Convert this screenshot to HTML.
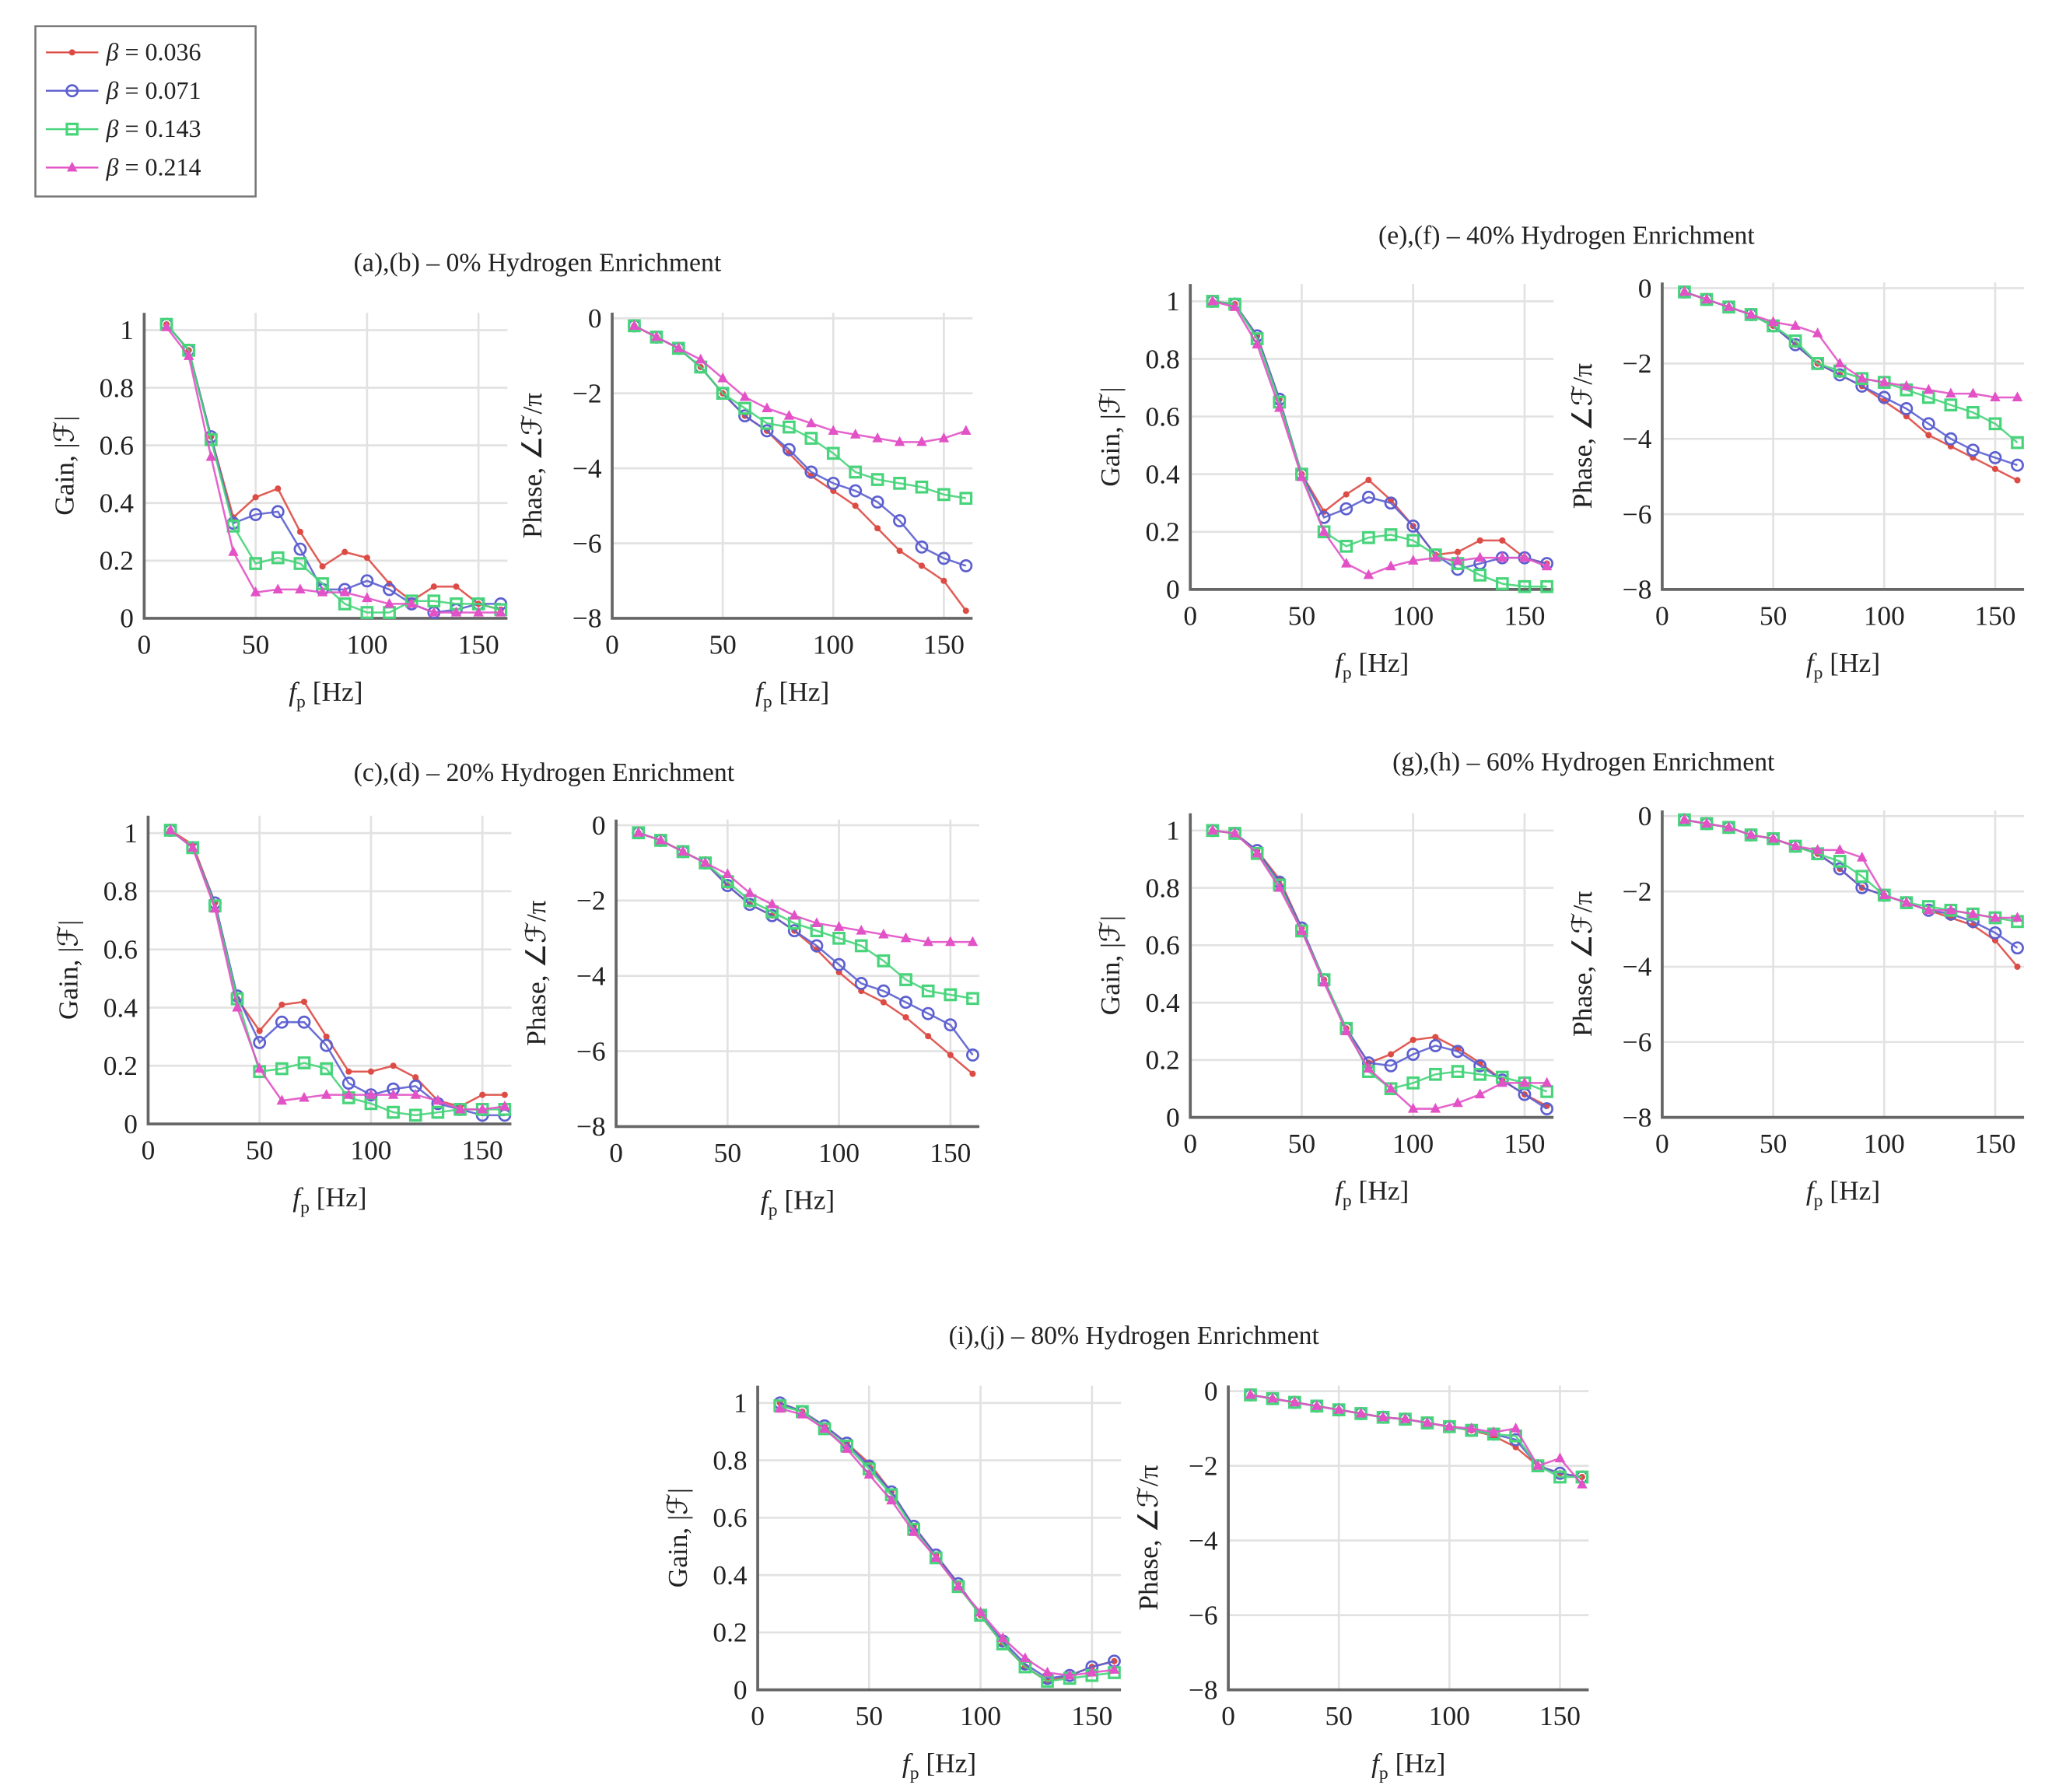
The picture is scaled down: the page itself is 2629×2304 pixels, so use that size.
<!DOCTYPE html>
<html><head><meta charset="utf-8">
<style>
html,body{margin:0;padding:0;background:#fff;}
svg{display:block;}
text{font-family:"Liberation Serif",serif;fill:#222;}
</style></head>
<body>
<svg id="fig" xmlns="http://www.w3.org/2000/svg" width="2629" height="2304" viewBox="0 0 1560 1368" preserveAspectRatio="none">
  <g>
    <rect x="27" y="20" width="168" height="130" fill="#fff" stroke="#777" stroke-width="1.5"/>
  </g>
</svg>
<script>
const freqs = [10,20,30,40,50,60,70,80,90,100,110,120,130,140,150,160];
const seriesNames = ["0.036","0.071","0.143","0.214"];
const gainTicks = [0,0.2,0.4,0.6,0.8,1];
const gainTickLabels = ["0","0.2","0.4","0.6","0.8","1"];
const phaseTicks = [0,-2,-4,-6,-8];
const phaseTickLabels = ["0","−2","−4","−6","−8"];
const freqTicks = [0,50,100,150];
const freqTickLabels = ["0","50","100","150"];

// 0% H2
const gain0_red  = [1.02,0.93,0.63,0.35,0.42,0.45,0.30,0.18,0.23,0.21,0.12,0.06,0.11,0.11,0.05,0.03];
const gain0_blue = [1.02,0.93,0.63,0.33,0.36,0.37,0.24,0.10,0.10,0.13,0.10,0.05,0.02,0.03,0.05,0.05];
const gain0_green= [1.02,0.93,0.62,0.32,0.19,0.21,0.19,0.12,0.05,0.02,0.02,0.06,0.06,0.05,0.05,0.03];
const gain0_mag  = [1.01,0.91,0.56,0.23,0.09,0.10,0.10,0.09,0.09,0.07,0.05,0.05,0.02,0.02,0.02,0.02];
const phase0_red  = [-0.2,-0.5,-0.8,-1.3,-2.0,-2.6,-3.0,-3.6,-4.2,-4.6,-5.0,-5.6,-6.2,-6.6,-7.0,-7.8];
const phase0_blue = [-0.2,-0.5,-0.8,-1.3,-2.0,-2.6,-3.0,-3.5,-4.1,-4.4,-4.6,-4.9,-5.4,-6.1,-6.4,-6.6];
const phase0_green= [-0.2,-0.5,-0.8,-1.3,-2.0,-2.4,-2.8,-2.9,-3.2,-3.6,-4.1,-4.3,-4.4,-4.5,-4.7,-4.8];
const phase0_mag  = [-0.2,-0.5,-0.8,-1.1,-1.6,-2.1,-2.4,-2.6,-2.8,-3.0,-3.1,-3.2,-3.3,-3.3,-3.2,-3.0];
// 20% H2
const gain20_red  = [1.01,0.96,0.76,0.43,0.32,0.41,0.42,0.30,0.18,0.18,0.20,0.16,0.08,0.06,0.10,0.10];
const gain20_blue = [1.01,0.95,0.76,0.44,0.28,0.35,0.35,0.27,0.14,0.10,0.12,0.13,0.07,0.05,0.03,0.03];
const gain20_green= [1.01,0.95,0.75,0.43,0.18,0.19,0.21,0.19,0.09,0.07,0.04,0.03,0.04,0.05,0.05,0.05];
const gain20_mag  = [1.01,0.95,0.74,0.40,0.19,0.08,0.09,0.10,0.10,0.10,0.10,0.10,0.08,0.05,0.05,0.06];
const phase20_red  = [-0.2,-0.4,-0.7,-1.0,-1.6,-2.1,-2.4,-2.8,-3.3,-3.9,-4.4,-4.7,-5.1,-5.6,-6.1,-6.6];
const phase20_blue = [-0.2,-0.4,-0.7,-1.0,-1.6,-2.1,-2.4,-2.8,-3.2,-3.7,-4.2,-4.4,-4.7,-5.0,-5.3,-6.1];
const phase20_green= [-0.2,-0.4,-0.7,-1.0,-1.5,-2.0,-2.3,-2.6,-2.8,-3.0,-3.2,-3.6,-4.1,-4.4,-4.5,-4.6];
const phase20_mag  = [-0.2,-0.4,-0.7,-1.0,-1.3,-1.8,-2.1,-2.4,-2.6,-2.7,-2.8,-2.9,-3.0,-3.1,-3.1,-3.1];
// 40% H2
const gain40_red  = [1.0,0.99,0.88,0.66,0.40,0.27,0.33,0.38,0.31,0.22,0.12,0.13,0.17,0.17,0.11,0.09];
const gain40_blue = [1.0,0.99,0.88,0.66,0.40,0.25,0.28,0.32,0.30,0.22,0.12,0.07,0.09,0.11,0.11,0.09];
const gain40_green= [1.0,0.99,0.87,0.65,0.40,0.20,0.15,0.18,0.19,0.17,0.12,0.09,0.05,0.02,0.01,0.01];
const gain40_mag  = [1.0,0.98,0.85,0.63,0.39,0.20,0.09,0.05,0.08,0.10,0.11,0.10,0.11,0.11,0.11,0.08];
const phase40_red  = [-0.1,-0.3,-0.5,-0.7,-1.0,-1.5,-2.0,-2.3,-2.6,-3.0,-3.4,-3.9,-4.2,-4.5,-4.8,-5.1];
const phase40_blue = [-0.1,-0.3,-0.5,-0.7,-1.0,-1.5,-2.0,-2.3,-2.6,-2.9,-3.2,-3.6,-4.0,-4.3,-4.5,-4.7];
const phase40_green= [-0.1,-0.3,-0.5,-0.7,-1.0,-1.4,-2.0,-2.2,-2.4,-2.5,-2.7,-2.9,-3.1,-3.3,-3.6,-4.1];
const phase40_mag  = [-0.1,-0.3,-0.5,-0.7,-0.9,-1.0,-1.2,-2.0,-2.4,-2.5,-2.6,-2.7,-2.8,-2.8,-2.9,-2.9];
// 60% H2
const gain60_red  = [1.0,0.99,0.93,0.83,0.66,0.48,0.31,0.19,0.22,0.27,0.28,0.24,0.19,0.13,0.08,0.04];
const gain60_blue = [1.0,0.99,0.93,0.82,0.66,0.48,0.31,0.19,0.18,0.22,0.25,0.23,0.18,0.13,0.08,0.03];
const gain60_green= [1.0,0.99,0.92,0.81,0.65,0.48,0.31,0.16,0.10,0.12,0.15,0.16,0.15,0.14,0.12,0.09];
const gain60_mag  = [1.0,0.99,0.92,0.80,0.65,0.47,0.30,0.17,0.10,0.03,0.03,0.05,0.08,0.12,0.12,0.12];
const phase60_red  = [-0.1,-0.2,-0.3,-0.5,-0.6,-0.8,-1.0,-1.4,-1.9,-2.1,-2.3,-2.5,-2.7,-2.9,-3.3,-4.0];
const phase60_blue = [-0.1,-0.2,-0.3,-0.5,-0.6,-0.8,-1.0,-1.4,-1.9,-2.1,-2.3,-2.5,-2.6,-2.8,-3.1,-3.5];
const phase60_green= [-0.1,-0.2,-0.3,-0.5,-0.6,-0.8,-1.0,-1.2,-1.6,-2.1,-2.3,-2.4,-2.5,-2.6,-2.7,-2.8];
const phase60_mag  = [-0.1,-0.2,-0.3,-0.5,-0.6,-0.8,-0.9,-0.9,-1.1,-2.1,-2.3,-2.5,-2.5,-2.6,-2.7,-2.7];
// 80% H2
const gain80_red  = [1.0,0.97,0.92,0.86,0.79,0.69,0.57,0.47,0.37,0.26,0.16,0.08,0.03,0.05,0.08,0.10];
const gain80_blue = [1.0,0.97,0.92,0.86,0.78,0.69,0.57,0.47,0.37,0.26,0.17,0.09,0.04,0.05,0.08,0.10];
const gain80_green= [0.99,0.97,0.91,0.85,0.77,0.68,0.56,0.46,0.36,0.26,0.16,0.08,0.03,0.04,0.05,0.06];
const gain80_mag  = [0.98,0.96,0.91,0.84,0.75,0.66,0.55,0.46,0.36,0.27,0.18,0.11,0.06,0.05,0.06,0.07];
const phase80_red  = [-0.1,-0.2,-0.3,-0.4,-0.5,-0.6,-0.7,-0.75,-0.85,-0.95,-1.05,-1.2,-1.5,-2.0,-2.2,-2.3];
const phase80_blue = [-0.1,-0.2,-0.3,-0.4,-0.5,-0.6,-0.7,-0.75,-0.85,-0.95,-1.05,-1.15,-1.3,-2.0,-2.2,-2.3];
const phase80_green= [-0.1,-0.2,-0.3,-0.4,-0.5,-0.6,-0.7,-0.75,-0.85,-0.95,-1.05,-1.15,-1.2,-2.0,-2.3,-2.3];
const phase80_mag  = [-0.1,-0.2,-0.3,-0.4,-0.5,-0.6,-0.7,-0.75,-0.85,-0.95,-1.0,-1.1,-1.0,-2.0,-1.8,-2.5];

const colors = ["#dd4b45","#5c5fcf","#47d47a","#e252c6"];
const markers = ["dot","circle","square","triangle"];
const NS = "http://www.w3.org/2000/svg";
const svg = document.getElementById("fig");

function el(tag, attrs, parent){
  const e = document.createElementNS(NS, tag);
  for (const k in attrs) e.setAttribute(k, attrs[k]);
  (parent||svg).appendChild(e);
  return e;
}

function drawMarker(g, kind, x, y, c){
  let m;
  if (kind==="dot") m = el("circle",{cx:x,cy:y,r:2.4,fill:c},g);
  else if (kind==="circle") m = el("circle",{cx:x,cy:y,r:4.2,fill:"none",stroke:c,"stroke-width":1.6},g);
  else if (kind==="square") m = el("rect",{x:x-4,y:y-4,width:8,height:8,fill:"none",stroke:c,"stroke-width":1.9},g);
  else m = el("polygon",{points:`${x},${y-4.5} ${x+4},${y+3} ${x-4},${y+3}`,fill:c},g);
  
  
}

for (let i=0;i<4;i++){
  const y = 40 + i*29.3;
  const g = el("g",{});
  
  
  el("line",{x1:35,y1:y,x2:75,y2:y,stroke:colors[i],"stroke-width":1.4},g);
  drawMarker(g, markers[i], 55, y, colors[i]);
  const t = el("text",{x:81,y:y+6,"font-size":19},g);
  t.innerHTML = '<tspan font-style="italic">β</tspan> = ' + seriesNames[i];
}

function drawPanel(cfg, seriesList){
  const g = el("g",{});
  
  
  const pxPerHz = (cfg.x150 - cfg.x0)/150;
  const xs = f => cfg.x0 + f*pxPerHz;
  const isGain = cfg.kind==="gain";
  const pxPerUnit = isGain ? (cfg.yZero - cfg.yTop1) : (cfg.yBot - cfg.yZero)/8;
  const ys = v => cfg.yZero - v*pxPerUnit;
  const bottom = isGain ? cfg.yZero : cfg.yBot;
  const top = isGain ? ys(1.06) : ys(0.15);
  const right = xs(163);
  const ticks = isGain ? gainTicks : phaseTicks;
  const tlabels = isGain ? gainTickLabels : phaseTickLabels;
  ticks.forEach((t,i)=>{
    const y = ys(t);
    const gl = el("line",{x1:cfg.x0,y1:y,x2:right,y2:y,stroke:"#e2e2e2","stroke-width":1.6},g);
    
    
    const tl = el("text",{x:cfg.x0-8,y:y+7,"font-size":21,"text-anchor":"end"},g);
    
    
    tl.textContent = tlabels[i];
  });
  freqTicks.forEach((t,i)=>{
    const x = xs(t);
    if (t>0){
      const gl = el("line",{x1:x,y1:top,x2:x,y2:bottom,stroke:"#e2e2e2","stroke-width":1.6},g);
      
      
    }
    const tl = el("text",{x:x,y:bottom+27,"font-size":21,"text-anchor":"middle"},g);
    
    
    tl.textContent = freqTickLabels[i];
  });
  const ax = el("path",{d:`M${cfg.x0},${top} L${cfg.x0},${bottom} L${right},${bottom}`,fill:"none",stroke:"#666","stroke-width":2.2},g);
  
  
  const xl = el("text",{x:(cfg.x0+right)/2,y:bottom+63,"font-size":21,"text-anchor":"middle"},g);
  
  
  xl.innerHTML = '<tspan font-style="italic">f</tspan><tspan font-size="14" dy="5">p</tspan><tspan dy="-5"> [Hz]</tspan>';
  const cy = (top+bottom)/2;
  const yl = el("text",{x:cfg.x0-54,y:cy,"font-size":21,"text-anchor":"middle",transform:`rotate(-90 ${cfg.x0-54} ${cy})`},g);
  
  
  yl.textContent = isGain ? "Gain, |ℱ|" : "Phase, ∠ℱ/π";
  seriesList.forEach((vals,si)=>{
    const sg = el("g",{},g);
    
    
    const d = vals.map((v,i)=>(i?"L":"M")+xs(freqs[i]).toFixed(2)+","+ys(v).toFixed(2)).join(" ");
    el("path",{d:d,fill:"none",stroke:colors[si],"stroke-width":1.5,"stroke-opacity":0.9},sg);
    vals.forEach((v,i)=>drawMarker(sg, markers[si], xs(freqs[i]), ys(v), colors[si]));
  });
}

function title(txt, x, y, name){
  const t = el("text",{x:x,y:y,"font-size":20,"text-anchor":"middle"});
  
  
  t.textContent = txt;
}
title("(a),(b) – 0% Hydrogen Enrichment", 410, 207, "title-0pct");
title("(c),(d) – 20% Hydrogen Enrichment", 415, 596, "title-20pct");
title("(e),(f) – 40% Hydrogen Enrichment", 1195, 186, "title-40pct");
title("(g),(h) – 60% Hydrogen Enrichment", 1208, 588, "title-60pct");
title("(i),(j) – 80% Hydrogen Enrichment", 865, 1026, "title-80pct");

drawPanel({name:"gain-0pct",kind:"gain",x0:110,x150:365,yTop1:252,yZero:472},[gain0_red,gain0_blue,gain0_green,gain0_mag]);
drawPanel({name:"phase-0pct",kind:"phase",x0:467,x150:720,yZero:243,yBot:472},[phase0_red,phase0_blue,phase0_green,phase0_mag]);
drawPanel({name:"gain-20pct",kind:"gain",x0:113,x150:368,yTop1:636,yZero:858},[gain20_red,gain20_blue,gain20_green,gain20_mag]);
drawPanel({name:"phase-20pct",kind:"phase",x0:470,x150:725,yZero:630,yBot:860},[phase20_red,phase20_blue,phase20_green,phase20_mag]);
drawPanel({name:"gain-40pct",kind:"gain",x0:908,x150:1163,yTop1:230,yZero:450},[gain40_red,gain40_blue,gain40_green,gain40_mag]);
drawPanel({name:"phase-40pct",kind:"phase",x0:1268,x150:1522,yZero:220,yBot:450},[phase40_red,phase40_blue,phase40_green,phase40_mag]);
drawPanel({name:"gain-60pct",kind:"gain",x0:908,x150:1163,yTop1:634,yZero:853},[gain60_red,gain60_blue,gain60_green,gain60_mag]);
drawPanel({name:"phase-60pct",kind:"phase",x0:1268,x150:1522,yZero:623,yBot:853},[phase60_red,phase60_blue,phase60_green,phase60_mag]);
drawPanel({name:"gain-80pct",kind:"gain",x0:578,x150:833,yTop1:1071,yZero:1290},[gain80_red,gain80_blue,gain80_green,gain80_mag]);
drawPanel({name:"phase-80pct",kind:"phase",x0:937,x150:1190,yZero:1062,yBot:1290},[phase80_red,phase80_blue,phase80_green,phase80_mag]);
</script>
</body></html>
